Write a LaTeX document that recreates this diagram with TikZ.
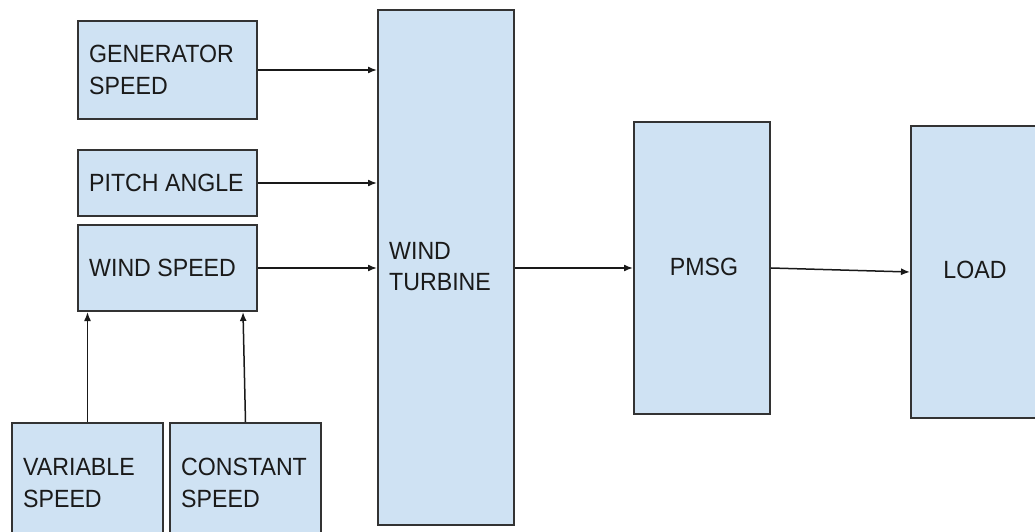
\documentclass[tikz,border=0pt]{standalone}
\usepackage{fontspec}
\setmainfont{Liberation Sans}
\newfontfamily\labfont[FakeStretch=0.93]{Liberation Sans}
\usetikzlibrary{arrows.meta,calc}
\definecolor{boxfill}{HTML}{CFE2F3}
\definecolor{boxdraw}{HTML}{333333}
\definecolor{txt}{HTML}{1A1A1A}
\begin{document}
\begin{tikzpicture}[x=1bp,y=-1bp,
  blk/.style={draw=boxdraw,fill=boxfill,line width=2bp,anchor=north west,inner sep=0pt},
  lbl/.style={anchor=west,align=left,inner sep=0pt,text=txt,
    font=\labfont\fontsize{25}{32}\selectfont},
  arr/.style={draw=black!90,line width=1.5bp,-{Latex[length=9bp,width=7bp]}}]
\clip (0,0) rectangle (1035,532);
\fill[white] (0,0) rectangle (1035,532);
\node[blk,minimum width=179bp,minimum height=98bp] (gen) at (77,20) {};
\node[blk,minimum width=179bp,minimum height=66bp] (pitch) at (77,149) {};
\node[blk,minimum width=179bp,minimum height=86bp] (ws) at (77,224) {};
\node[blk,minimum width=151bp,minimum height=118bp] (var) at (11,422) {};
\node[blk,minimum width=151bp,minimum height=118bp] (con) at (169,422) {};
\node[blk,minimum width=136bp,minimum height=515bp] (wt) at (377,9) {};
\node[blk,minimum width=136bp,minimum height=292bp] (pmsg) at (633,121) {};
\node[blk,minimum width=126bp,minimum height=292bp] (load) at (910,125) {};
\node[lbl] (tgen) at ([xshift=12bp]gen.west) {GENERATOR\\SPEED};
\node[lbl] (tpitch) at ([xshift=12bp]pitch.west) {PITCH ANGLE};
\node[lbl] (tws) at ([xshift=12bp]ws.west) {WIND SPEED};
\node[lbl] (tvar) at ([xshift=12bp,yshift=-1bp]var.west) {VARIABLE\\SPEED};
\node[lbl] (tcon) at ([xshift=12bp,yshift=-1bp]con.west) {CONSTANT\\SPEED};
\node[lbl] (twt) at ([xshift=12bp,yshift=1bp]wt.west) {WIND\\TURBINE};
\node[lbl,anchor=center] (tpmsg) at ([xshift=2bp,yshift=1bp]pmsg.center) {PMSG};
\node[lbl,anchor=center] (tload) at ([xshift=1bp,yshift=2bp]load.center) {LOAD};
\draw[arr] (gen.east) -- (gen.east -| wt.west);
\draw[arr] (pitch.east) -- (pitch.east -| wt.west);
\draw[arr] (ws.east) -- (ws.east -| wt.west);
\draw[arr] (var.north) -- (var.north |- ws.south);
\draw[arr] (con.north) -- ([xshift=-2.5bp]con.north |- ws.south);
\draw[arr] (wt.east |- ws.east) -- (pmsg.west |- ws.east);
\draw[arr] (pmsg.east |- ws.east) -- (load.west);
\end{tikzpicture}
\end{document}
